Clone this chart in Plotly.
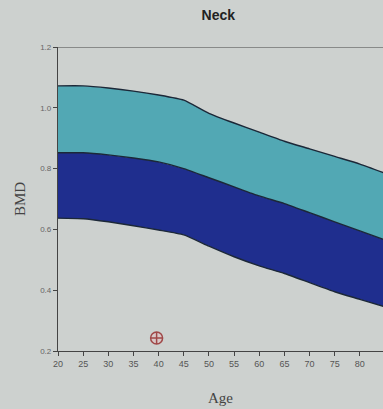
import plotly.graph_objects as go

ages = [20, 25, 30, 35, 40, 45, 50, 55, 60, 65, 70, 75, 80, 85]
upper = [1.072, 1.072, 1.065, 1.055, 1.042, 1.025, 0.982, 0.950, 0.920, 0.890, 0.865, 0.840, 0.815, 0.785]
middle = [0.852, 0.852, 0.845, 0.835, 0.822, 0.800, 0.770, 0.740, 0.710, 0.685, 0.655, 0.625, 0.595, 0.565]
lower = [0.637, 0.635, 0.625, 0.612, 0.598, 0.582, 0.545, 0.510, 0.480, 0.455, 0.425, 0.395, 0.370, 0.345]
patient_age = [39.6]
patient_bmd = [0.243]

x_ticks = [20, 25, 30, 35, 40, 45, 50, 55, 60, 65, 70, 75, 80, 85]
y_ticks = [0.2, 0.4, 0.6, 0.8, 1.0, 1.2]

line_col = "#1c2838"
line_shape = dict(color=line_col, width=1.4, shape="spline", smoothing=0.5)
fig = go.Figure()
fig.add_trace(go.Scatter(x=ages, y=lower, mode="lines", line=line_shape,
                         showlegend=False, hoverinfo="skip"))
fig.add_trace(go.Scatter(x=ages, y=middle, mode="lines", line=line_shape,
                         fill="tonexty", fillcolor="#1f2e8e", showlegend=False, hoverinfo="skip"))
fig.add_trace(go.Scatter(x=ages, y=upper, mode="lines", line=line_shape,
                         fill="tonexty", fillcolor="#52a8b4", showlegend=False, hoverinfo="skip"))
fig.add_trace(go.Scatter(x=patient_age, y=patient_bmd, mode="markers",
                         marker=dict(symbol="circle-cross", size=12, color="#d9c8c8",
                                     line=dict(color="#a04848", width=1.5)),
                         showlegend=False))

fig.update_layout(
    width=383, height=409,
    margin=dict(l=58, r=0, t=47, b=58, autoexpand=False),
    paper_bgcolor="#cdd1cf", plot_bgcolor="#cdd1cf",
    title=dict(text="<b>Neck</b>", x=0.57, xanchor="center", y=0.963, yanchor="middle",
               automargin=False,
               font=dict(family="Liberation Sans, Arial", size=14, color="#222222")),
)
fig.update_xaxes(range=[20, 84.6], tickvals=x_ticks, ticktext=[str(t) for t in x_ticks],
                 automargin=False,
                 showgrid=False, zeroline=False, showline=True, linecolor="#444444", linewidth=1.2,
                 ticks="outside", ticklen=4, tickcolor="#444444", mirror=False,
                 tickfont=dict(family="Liberation Sans, Arial", size=9, color="#555555"),
                 title=dict(text="Age", font=dict(family="Liberation Serif, Times New Roman", size=15, color="#444444"),
                            standoff=24))
fig.update_yaxes(range=[0.2, 1.2], tickvals=y_ticks, ticktext=[f"{t:.1f}" for t in y_ticks],
                 automargin=False,
                 showgrid=False, zeroline=False, showline=True, linecolor="#444444", linewidth=1.2,
                 ticks="outside", ticklen=4, tickcolor="#444444",
                 tickfont=dict(family="Liberation Sans, Arial", size=8, color="#666666"),
                 title=dict(text="BMD", font=dict(family="Liberation Serif, Times New Roman", size=15, color="#444444"),
                            standoff=10))
# top border line of the plot box
fig.add_shape(type="line", xref="paper", yref="y", x0=0, x1=1, y0=1.2, y1=1.2,
              line=dict(color="#444444", width=1.2))

fig.write_html("out.html", config={"displayModeBar": False},
               post_script="document.body.style.margin='0';document.body.style.background='#cdd1cf';document.body.style.overflow='hidden';")
